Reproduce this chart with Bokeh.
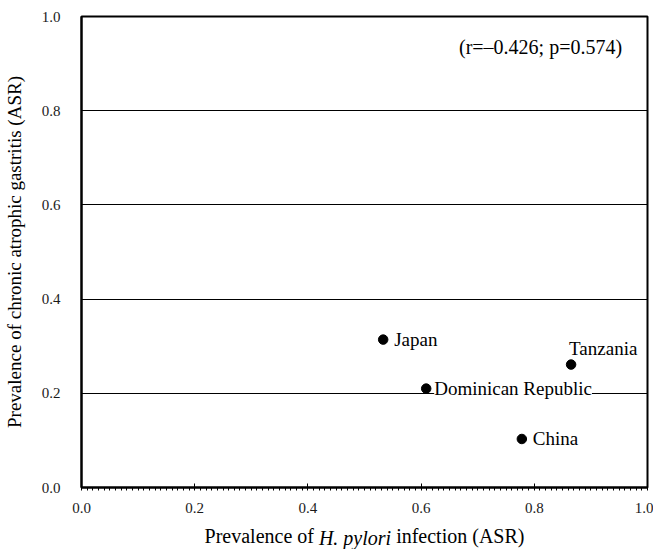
from bokeh.plotting import figure
from bokeh.models import (ColumnDataSource, Label, SingleIntervalTicker, FixedTicker,
                          LinearAxis, Range1d)
from bokeh.embed import file_html
from bokeh.resources import INLINE

countries = ["Japan", "Dominican Republic", "Tanzania", "China"]
hp_prev = [0.533, 0.609, 0.865, 0.778]
cag_prev = [0.314, 0.210, 0.261, 0.103]
ticks = [0.0, 0.2, 0.4, 0.6, 0.8, 1.0]
annotation = "(r=\u20130.426; p=0.574)"
x_title = ("Prevalence of", "H. pylori", "infection (ASR)")
y_title = "Prevalence of chronic atrophic gastritis (ASR)"

FONT = "Liberation Serif"
FW, FH = 566, 471

p = figure(width=653, height=549, output_backend="svg", toolbar_location=None,
           x_range=Range1d(0, 1), y_range=Range1d(0, 1),
           frame_width=FW, frame_height=FH,
           min_border_left=81, min_border_top=16, min_border_right=6, min_border_bottom=62)
p.background_fill_color = "white"
p.border_fill_color = "white"
p.outline_line_color = "black"
p.outline_line_width = 2

p.xgrid.grid_line_color = None
p.ygrid.grid_line_color = "black"
p.ygrid.grid_line_width = 1

xt = SingleIntervalTicker(interval=0.2, num_minor_ticks=20)
yt = SingleIntervalTicker(interval=0.2, num_minor_ticks=0)
p.xaxis.ticker = xt
p.yaxis.ticker = yt
p.ygrid.ticker = yt
p.xaxis.major_label_overrides = {t: f"{t:.1f}" for t in ticks}
p.yaxis.major_label_overrides = {t: f"{t:.1f}" for t in ticks}

for ax in (p.xaxis, p.yaxis):
    ax.axis_line_color = "black"
    ax.axis_line_width = 2
    ax.major_label_text_font = FONT
    ax.major_label_text_font_size = "15px"
    ax.major_label_text_color = "#1a1a1a"
    ax.axis_label_text_font = FONT
    ax.axis_label_text_font_size = "19px"
    ax.axis_label_text_font_style = "normal"
    ax.axis_label_text_color = "black"

p.xaxis.major_tick_in = 4
p.xaxis.major_tick_out = 0
p.xaxis.minor_tick_in = 0
p.xaxis.minor_tick_out = 3
p.xaxis.major_tick_line_color = "black"
p.xaxis.minor_tick_line_color = "black"
p.xaxis.major_label_standoff = 12

p.yaxis.major_tick_in = 0
p.yaxis.major_tick_out = 0
p.yaxis.minor_tick_line_color = None
p.yaxis.major_label_standoff = 21
p.yaxis.axis_label = y_title
p.yaxis.axis_label_standoff = 14

# x-axis title: regular + italic + regular parts laid out with Times metrics
TPX = 20
w_reg1 = 5.47 * TPX
w_ital = 3.611 * TPX
w_reg2 = 6.416 * TPX
sp = 0.25 * TPX
total = w_reg1 + sp + w_ital + sp + w_reg2
start = FW / 2 - total / 2
c1 = (start + w_reg1 / 2) / FW
c2 = (start + w_reg1 + sp + w_ital / 2) / FW
c3 = (start + w_reg1 + sp + w_ital + sp + w_reg2 / 2) / FW

reg_axis = LinearAxis(ticker=FixedTicker(ticks=[c1, c3]),
                      major_label_overrides={c1: x_title[0], c3: x_title[2]})
ital_axis = LinearAxis(ticker=FixedTicker(ticks=[c2]),
                       major_label_overrides={c2: x_title[1]})
for ax, style, so in ((reg_axis, "normal", 9), (ital_axis, "italic", -23)):
    ax.axis_line_color = None
    ax.major_tick_line_color = None
    ax.minor_tick_line_color = None
    ax.major_tick_in = 0
    ax.major_tick_out = 0
    ax.major_label_text_font = FONT
    ax.major_label_text_font_size = f"{TPX}px"
    ax.major_label_text_font_style = style
    ax.major_label_text_color = "black"
    ax.major_label_standoff = so
    p.add_layout(ax, "below")

src = ColumnDataSource(dict(x=hp_prev, y=cag_prev, name=countries))
p.scatter("x", "y", source=src, size=9.5, color="black")

offsets = {"Japan": (11, 0),
           "Dominican Republic": (8, 0),
           "Tanzania": (-2, 16),
           "China": (11, 0)}
for name, x, y in zip(countries, hp_prev, cag_prev):
    dx, dy = offsets[name]
    p.add_layout(Label(x=x, y=y, text=name, x_offset=dx, y_offset=dy,
                       text_font=FONT, text_font_size="19px", text_align="left",
                       text_baseline="middle", text_color="black",
                       background_fill_color="white" if name == "Dominican Republic" else None,
                       border_line_color=None))

p.add_layout(Label(x=0.811, y=0.936, text=annotation, text_font=FONT,
                   text_font_size="20px", text_align="center", text_baseline="middle",
                   text_color="black"))

open("out.html", "w").write(file_html(p, INLINE))
